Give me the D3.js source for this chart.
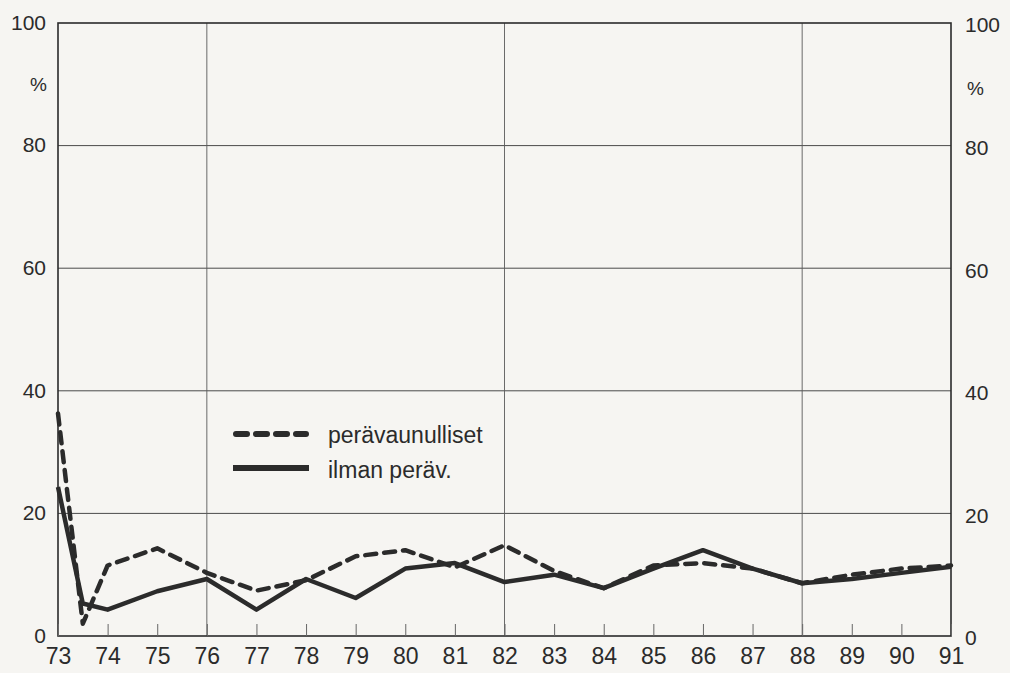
<!DOCTYPE html>
<html>
<head>
<meta charset="utf-8">
<script src="https://cdn.jsdelivr.net/npm/d3@7"></script>
<style>
  html, body { margin: 0; padding: 0; background: #f6f5f2; }
  svg { display: block; font-family: "Liberation Sans", Arial, sans-serif; }
</style>
</head>
<body>
<svg id="chart" width="1010" height="673"></svg>
<script>
// Years (x positions; 73.5 marks the mid-year reading)
const years = [73, 73.5, 74, 75, 76, 77, 78, 79, 80, 81, 82, 83, 84, 85, 86, 87, 88, 89, 90, 91];
// Share (%) with trailers
const withTrailer = [36.3, 2.0, 11.5, 14.3, 10.3, 7.4, 9.1, 13.0, 14.0, 11.2, 14.8, 10.6, 7.8, 11.5, 11.9, 11.0, 8.6, 10.0, 11.0, 11.5];
// Share (%) without trailers
const noTrailer = [24.3, 5.3, 4.3, 7.3, 9.3, 4.3, 9.3, 6.2, 11.0, 11.9, 8.8, 10.0, 7.8, 11.0, 14.0, 11.0, 8.6, 9.3, 10.3, 11.3];

const xTicks = d3.range(73, 92);
const gridYears = [76, 82, 88];
const yTicks = [0, 20, 40, 60, 80, 100];
const legendLabels = ["perävaunulliset", "ilman peräv."];

const svg = d3.select("#chart");
const m = { left: 58, right: 59, top: 23, bottom: 37 };
const W = 1010, H = 673;

const x = d3.scaleLinear().domain([73, 91]).range([m.left, W - m.right]);
const y = d3.scaleLinear().domain([0, 100]).range([H - m.bottom, m.top]);

const ink = "#2b2b2b";

// horizontal grid
svg.append("g").selectAll("line").data(yTicks.filter(v => v > 0 && v < 100)).join("line")
  .attr("x1", x(73)).attr("x2", x(91))
  .attr("y1", d => y(d)).attr("y2", d => y(d))
  .attr("stroke", "#4a4a4a").attr("stroke-width", 1);

// vertical grid
svg.append("g").selectAll("line").data(gridYears).join("line")
  .attr("x1", d => x(d)).attr("x2", d => x(d))
  .attr("y1", y(0)).attr("y2", y(100))
  .attr("stroke", "#5a5a5a").attr("stroke-width", 0.9);

// frame
svg.append("rect")
  .attr("x", x(73)).attr("y", y(100))
  .attr("width", x(91) - x(73)).attr("height", y(0) - y(100))
  .attr("fill", "none").attr("stroke", ink).attr("stroke-width", 1.6);

// bottom axis: inward ticks + labels
const xAxis = d3.axisBottom(x).tickValues(xTicks).tickSize(-12).tickPadding(18)
  .tickFormat(d3.format("d"));
const gx = svg.append("g").attr("transform", `translate(0,${y(0)})`).call(xAxis);
gx.select(".domain").remove();
gx.selectAll(".tick line").attr("stroke", "#666").attr("stroke-width", 1);
gx.selectAll(".tick text").attr("fill", ink).attr("font-size", 23).attr("dy", "0.42em");

// left axis
const yAxisL = d3.axisLeft(y).tickValues(yTicks).tickSize(0).tickPadding(12);
const gl = svg.append("g").attr("transform", `translate(${x(73)},0)`).call(yAxisL);
gl.select(".domain").remove();
gl.selectAll(".tick text").attr("fill", ink).attr("font-size", 21).attr("dy", "0.3em");

// right axis
const yAxisR = d3.axisRight(y).tickValues(yTicks).tickSize(0).tickPadding(14);
const gr = svg.append("g").attr("transform", `translate(${x(91)},0)`).call(yAxisR);
gr.select(".domain").remove();
gr.selectAll(".tick text").attr("fill", ink).attr("font-size", 21).attr("dy", "0.42em");

// unit labels
svg.append("text").attr("x", x(73) - 11).attr("y", y(90) + 7)
  .attr("text-anchor", "end").attr("font-size", 19).attr("fill", ink).text("%");
svg.append("text").attr("x", x(91) + 16).attr("y", y(90) + 11)
  .attr("text-anchor", "start").attr("font-size", 19).attr("fill", ink).text("%");

// series lines
const line = d3.line().x((d, i) => x(years[i])).y(d => y(d));

svg.append("path").datum(withTrailer)
  .attr("d", line).attr("fill", "none").attr("stroke", ink)
  .attr("stroke-width", 4.5).attr("stroke-dasharray", "11 8").attr("stroke-linecap", "round")
  .attr("stroke-linejoin", "round");

svg.append("path").datum(noTrailer)
  .attr("d", line).attr("fill", "none").attr("stroke", ink)
  .attr("stroke-width", 4.5).attr("stroke-linejoin", "round");

// legend
const lg = svg.append("g").attr("transform", "translate(236,434)");
lg.append("line").attr("x1", 0).attr("x2", 70).attr("y1", 0).attr("y2", 0)
  .attr("stroke", ink).attr("stroke-width", 6).attr("stroke-dasharray", "11 9")
  .attr("stroke-linecap", "round");
lg.append("line").attr("x1", -3).attr("x2", 73).attr("y1", 34).attr("y2", 34)
  .attr("stroke", ink).attr("stroke-width", 6);
lg.selectAll("text").data(legendLabels).join("text")
  .attr("x", 92).attr("y", (d, i) => i * 35 + 9)
  .attr("font-size", 23).attr("fill", ink).text(d => d);
</script>
</body>
</html>
